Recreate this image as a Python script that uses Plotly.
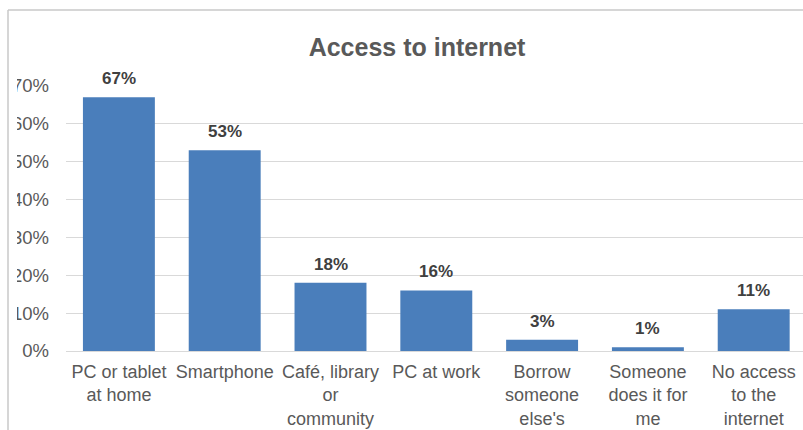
import plotly.graph_objects as go

# Chart data
categories = [
    "PC or tablet<br>at home",
    "Smartphone",
    "Café, library<br>or<br>community",
    "PC at work",
    "Borrow<br>someone<br>else's",
    "Someone<br>does it for<br>me",
    "No access<br>to the<br>internet",
]
shares = [0.67, 0.53, 0.18, 0.16, 0.03, 0.01, 0.11]
y_ticks = [0, 0.1, 0.2, 0.3, 0.4, 0.5, 0.6, 0.7]
y_tick_text = ["0%", "10%", "20%", "30%", "40%", "50%", "60%", "70%"]

W, H = 803, 430
L, R, T, B = 66, 0, 86, 79
plot_w = W - L - R
plot_h = H - T - B

FONT = "Liberation Sans, Arial, sans-serif"
BAR = "#4a7ebb"
GRID = "#d9d9d9"
TEXT = "#595959"


def px_x(px):
    return (px - L) / plot_w


def px_y(py):
    return (H - B - py) / plot_h


fig = go.Figure(
    go.Bar(
        x=list(range(len(categories))),
        y=shares,
        marker=dict(color=BAR, line=dict(width=0)),
        width=0.68,
        hoverinfo="skip",
    )
)

# value labels above each bar
for i, v in enumerate(shares):
    fig.add_annotation(
        x=i, y=v, xref="x", yref="y",
        text=f"<b>{round(v * 100)}%</b>",
        showarrow=False, yanchor="bottom", yshift=7,
        font=dict(family=FONT, size=17, color="#404040"),
    )

# white strip trimming the left edge of the axis labels
fig.add_shape(type="rect", xref="paper", yref="paper",
              x0=px_x(0), x1=px_x(17), y0=px_y(11), y1=px_y(H + 5),
              fillcolor="white", line=dict(width=0), layer="above")
# outer frame lines (top and left)
fig.add_shape(type="line", xref="paper", yref="paper",
              x0=px_x(8), x1=px_x(W + 5), y0=px_y(10), y1=px_y(10),
              line=dict(color="#c8c8c8", width=1.5), layer="above")
fig.add_shape(type="line", xref="paper", yref="paper",
              x0=px_x(8), x1=px_x(8), y0=px_y(10), y1=px_y(H + 5),
              line=dict(color="#c8c8c8", width=1.5), layer="above")

fig.update_layout(
    width=W, height=H,
    margin=dict(l=L, r=R, t=T, b=B),
    paper_bgcolor="white", plot_bgcolor="white",
    showlegend=False,
    title=dict(
        text="<b>Access to internet</b>",
        x=417 / W, xanchor="center",
        y=1 - 47 / H, yanchor="middle", yref="container",
        font=dict(family=FONT, size=25, color=TEXT),
    ),
    xaxis=dict(
        tickmode="array",
        tickvals=list(range(len(categories))),
        ticktext=categories,
        range=[-0.5, -0.5 + plot_w / 105.8],
        showgrid=False, zeroline=False, showline=False,
        ticks="", ticklabelstandoff=8,
        tickfont=dict(family=FONT, size=18, color=TEXT),
        fixedrange=True,
    ),
    yaxis=dict(
        range=[0, 0.7],
        tickvals=y_ticks, ticktext=y_tick_text,
        showgrid=True, gridcolor=GRID, gridwidth=1,
        zeroline=True, zerolinecolor=GRID, zerolinewidth=1,
        showline=False, ticks="", ticklabelstandoff=16,
        tickfont=dict(family=FONT, size=18.5, color=TEXT),
        fixedrange=True,
    ),
)

fig.write_html("out.html", config={"displayModeBar": False})
